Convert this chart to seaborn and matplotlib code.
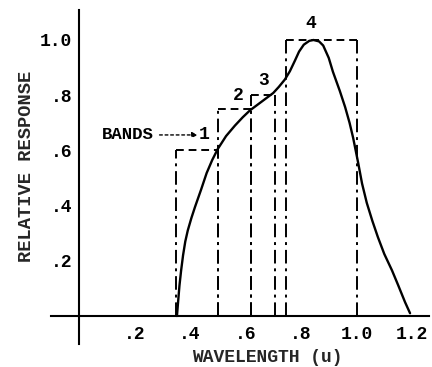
import matplotlib
matplotlib.use("Agg")
import matplotlib.pyplot as plt
import seaborn as sns
import pandas as pd

# --- data ---
wavelength = [0.353, 0.357, 0.362, 0.368, 0.375, 0.383, 0.392, 0.405, 0.418, 0.440,
              0.460, 0.480, 0.500, 0.530, 0.562, 0.590, 0.616, 0.660, 0.700, 0.720,
              0.742, 0.760, 0.778, 0.793, 0.810, 0.830, 0.845, 0.865, 0.880, 0.900,
              0.915, 0.940, 0.959, 0.975, 0.988, 1.006, 1.020, 1.037, 1.057, 1.077,
              1.100, 1.128, 1.150, 1.175, 1.193]
response = [0.000, 0.050, 0.110, 0.165, 0.220, 0.270, 0.310, 0.355, 0.395, 0.458,
            0.518, 0.565, 0.605, 0.652, 0.690, 0.720, 0.745, 0.778, 0.808, 0.830,
            0.857, 0.887, 0.925, 0.958, 0.983, 0.997, 1.000, 0.995, 0.980, 0.935,
            0.885, 0.815, 0.757, 0.700, 0.645, 0.555, 0.480, 0.410, 0.345, 0.286,
            0.225, 0.165, 0.112, 0.050, 0.010]

band_names = ["1", "2", "3", "4"]
band_lo = [0.35, 0.50, 0.62, 0.745]
band_hi = [0.50, 0.62, 0.705, 1.00]
band_top = [0.60, 0.75, 0.80, 1.00]
band_label_x = [0.45, 0.573, 0.667, 0.836]
band_label_y = [0.656, 0.80, 0.855, 1.058]

xticks = [0.2, 0.4, 0.6, 0.8, 1.0, 1.2]
xticklabels = [".2", ".4", ".6", ".8", "1.0", "1.2"]
yticks = [0.2, 0.4, 0.6, 0.8, 1.0]
yticklabels = [".2", ".4", ".6", ".8", "1.0"]

sns.set_style("white")
plt.rcParams["font.family"] = ["Liberation Mono", "DejaVu Sans Mono"]
plt.rcParams["font.weight"] = "bold"
plt.rcParams["axes.labelweight"] = "bold"

W, H = 432, 367
fig = plt.figure(figsize=(W / 100, H / 100), dpi=100)
# axes placement: data x=0 at px 79, 277.5 px/unit; y=0 at px 316 from top, 276 px/unit
xlim = (-0.10, 1.26)
ylim = (-0.10, 1.11)
left_px = 79 + xlim[0] * 277.5
width_px = (xlim[1] - xlim[0]) * 277.5
bottom_px = H - (316 - ylim[0] * 276)
height_px = (ylim[1] - ylim[0]) * 276
ax = fig.add_axes([left_px / W, bottom_px / H, width_px / W, height_px / H])

df = pd.DataFrame({"wavelength": wavelength, "response": response})
sns.lineplot(data=df, x="wavelength", y="response", ax=ax, color="black",
             lw=1.7, estimator=None, sort=False)

dash = (0, (7, 2.5, 1.5, 2.5))
for lo, hi, top in zip(band_lo, band_hi, band_top):
    ax.vlines([lo, hi], 0, top, colors="black", lw=1.4, linestyles=[dash])
    ax.hlines(top, lo, hi, colors="black", lw=1.4, linestyles=[(0, (4, 2.5))])

for name, lx, ly in zip(band_names, band_label_x, band_label_y):
    ax.text(lx, ly, name, ha="center", va="center", fontsize=13, color="black")

ax.annotate("BANDS", xy=(0.428, 0.656), xytext=(0.175, 0.656),
            ha="center", va="center", fontsize=12.5, color="black",
            arrowprops=dict(arrowstyle="-|>", color="black", lw=1.0,
                            linestyle=(0, (2, 2)), shrinkA=2, shrinkB=0,
                            mutation_scale=8))

ax.set_xlim(*xlim)
ax.set_ylim(*ylim)
for s in ["top", "right"]:
    ax.spines[s].set_visible(False)
ax.spines["left"].set_position(("data", 0))
ax.spines["bottom"].set_position(("data", 0))
for s in ["left", "bottom"]:
    ax.spines[s].set_linewidth(1.5)
    ax.spines[s].set_color("black")

ax.set_xticks(xticks)
ax.set_xticklabels(xticklabels)
ax.set_yticks(yticks)
ax.set_yticklabels(yticklabels)
ax.tick_params(axis="both", direction="inout", length=4, width=1, colors="black",
               labelsize=13)
ax.tick_params(axis="x", pad=5)
ax.tick_params(axis="y", pad=3)

ax.set_xlabel("WAVELENGTH (u)", fontsize=13)
ax.xaxis.set_label_coords((267.5 - left_px) / width_px, (H - 358 - bottom_px) / height_px)
ax.xaxis.label.set_va("center")
ax.set_ylabel("RELATIVE RESPONSE", fontsize=13.5)
ax.yaxis.set_label_coords((27 - left_px) / width_px, ((H - 166) - bottom_px) / height_px)
ax.yaxis.label.set_va("center")

fig.savefig("out.png", dpi=100)
